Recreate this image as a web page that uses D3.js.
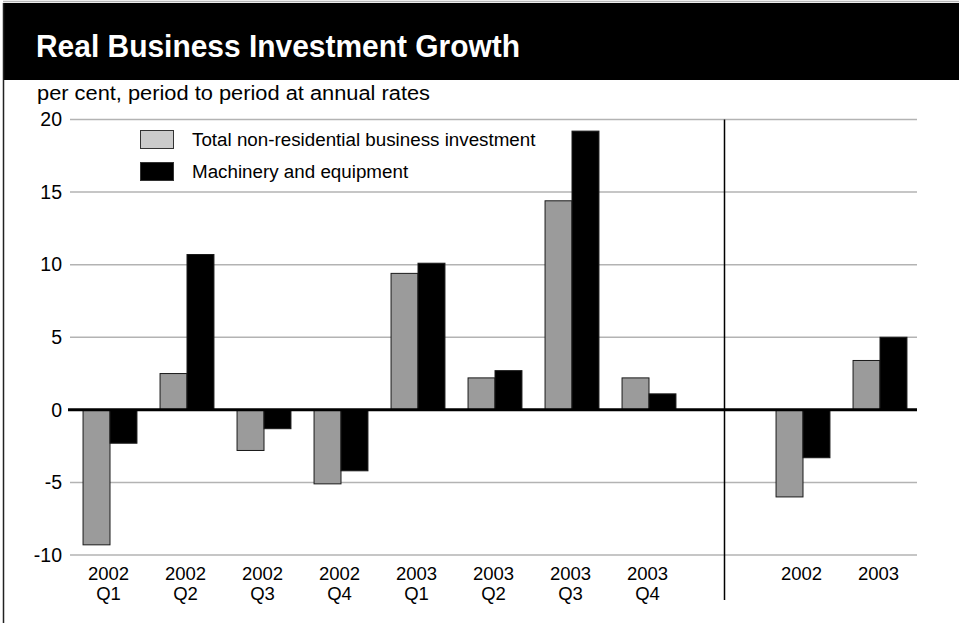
<!DOCTYPE html>
<html>
<head>
<meta charset="utf-8">
<script src="https://cdn.jsdelivr.net/npm/d3@7"></script>
<style>
  html, body { margin: 0; padding: 0; background: #fff; }
  svg { display: block; }
  text { font-family: "Liberation Sans", Arial, Helvetica, sans-serif; }
</style>
</head>
<body>
<svg id="chart" width="959" height="623"></svg>
<script>
// ---- data ----
const title = "Real Business Investment Growth";
const subtitle = "per cent, period to period at annual rates";
const categories = ["2002 Q1", "2002 Q2", "2002 Q3", "2002 Q4", "2003 Q1", "2003 Q2", "2003 Q3", "2003 Q4", "2002", "2003"];
const seriesNames = ["Total non-residential business investment", "Machinery and equipment"];
const totalInvestment = [-9.3, 2.5, -2.8, -5.1, 9.4, 2.2, 14.4, 2.2, -6.0, 3.4];
const machinery = [-2.3, 10.7, -1.3, -4.2, 10.1, 2.7, 19.2, 1.1, -3.3, 5.0];
const yTicks = [-10, -5, 0, 5, 10, 15, 20];
const quarterlyCount = 8; // quarterly categories before the separator

// ---- layout ----
const svg = d3.select("#chart");
const W = 959, H = 623;
const colors = ["#9b9b9b", "#000000"];
const legendColors = ["#cbcbcb", "#000000"];

// band domain with an empty separator slot between quarterly and annual data
const bandDomain = categories.slice(0, quarterlyCount).concat(["__sep__"], categories.slice(quarterlyCount));
const x = d3.scaleBand().domain(bandDomain).range([70, 917]).paddingInner(0.3).paddingOuter(0.15);
const x1 = d3.scaleBand().domain([0, 1]).range([0, x.bandwidth()]);
const y = d3.scaleLinear().domain([-10, 20]).range([555, 119.5]);

// frame & title band
svg.append("rect").attr("x", 0).attr("y", 0).attr("width", W).attr("height", H).attr("fill", "#fff");
svg.append("line").attr("x1", 3).attr("x2", W).attr("y1", 1.5).attr("y2", 1.5).attr("stroke", "#b5b5b5").attr("stroke-width", 1.5);
svg.append("rect").attr("x", 3).attr("y", 3).attr("width", W - 3).attr("height", 77).attr("fill", "#000");
svg.append("line").attr("x1", 3.5).attr("x2", 3.5).attr("y1", 3).attr("y2", H).attr("stroke", "#222").attr("stroke-width", 1.5);

svg.append("text").attr("x", 36).attr("y", 57).attr("fill", "#fff")
  .attr("font-size", 32).attr("font-weight", "bold")
  .attr("textLength", 484).attr("lengthAdjust", "spacingAndGlyphs")
  .text(title);

svg.append("text").attr("x", 37).attr("y", 100).attr("fill", "#000")
  .attr("font-size", 20)
  .attr("textLength", 393).attr("lengthAdjust", "spacingAndGlyphs")
  .text(subtitle);

// gridlines
svg.append("g").selectAll("line").data(yTicks.filter(d => d !== 0)).join("line")
  .attr("x1", 70).attr("x2", 917)
  .attr("y1", d => y(d)).attr("y2", d => y(d))
  .attr("stroke", "#b3b3b3").attr("stroke-width", 1.5);

// y axis labels
const yAxis = d3.axisLeft(y).tickValues(yTicks).tickSize(0).tickPadding(0).tickFormat(d => String(d));
const yg = svg.append("g").attr("transform", "translate(62,0)").call(yAxis);
yg.select(".domain").remove();
yg.selectAll("text").attr("font-size", 19.5).attr("fill", "#000")
  .style("font-family", "'Liberation Sans', Arial, sans-serif");

// separator line
svg.append("line")
  .attr("x1", x("__sep__") + x.bandwidth() / 2).attr("x2", x("__sep__") + x.bandwidth() / 2)
  .attr("y1", y(20)).attr("y2", 600)
  .attr("stroke", "#000").attr("stroke-width", 1.5);

// bars
const rows = categories.map((c, i) => ({ cat: c, vals: [totalInvestment[i], machinery[i]] }));
const groups = svg.append("g").selectAll("g").data(rows).join("g")
  .attr("transform", d => `translate(${x(d.cat) + 1.5},0)`);
groups.selectAll("rect").data(d => d.vals.map((v, k) => ({ v, k }))).join("rect")
  .attr("x", d => x1(d.k))
  .attr("width", x1.bandwidth())
  .attr("y", d => y(Math.max(0, d.v)))
  .attr("height", d => Math.abs(y(d.v) - y(0)))
  .attr("fill", d => colors[d.k])
  .attr("stroke", "#1a1a1a").attr("stroke-width", 1);

// zero line
svg.append("line").attr("x1", 68).attr("x2", 917)
  .attr("y1", y(0)).attr("y2", y(0))
  .attr("stroke", "#000").attr("stroke-width", 3);

// category labels
const catG = svg.append("g").selectAll("text").data(categories).join("text")
  .attr("text-anchor", "middle")
  .attr("font-size", 18.5)
  .attr("fill", "#000");
catG.each(function (c) {
  const parts = c.split(" ");
  const t = d3.select(this);
  const cx = x(c) + x.bandwidth() / 2;
  parts.forEach((p, i) => {
    t.append("tspan").attr("x", cx).attr("y", 580 + i * 20).text(p);
  });
});

// legend
const legend = svg.append("g");
const legendY = [130, 162];
seriesNames.forEach((name, i) => {
  legend.append("rect").attr("x", 140.5).attr("y", legendY[i] + 0.5).attr("width", 33).attr("height", 18)
    .attr("fill", legendColors[i]).attr("stroke", "#333").attr("stroke-width", 1);
  legend.append("text").attr("x", 192).attr("y", legendY[i] + 16)
    .attr("font-size", 18.8).attr("fill", "#000").text(name);
});
</script>
</body>
</html>
